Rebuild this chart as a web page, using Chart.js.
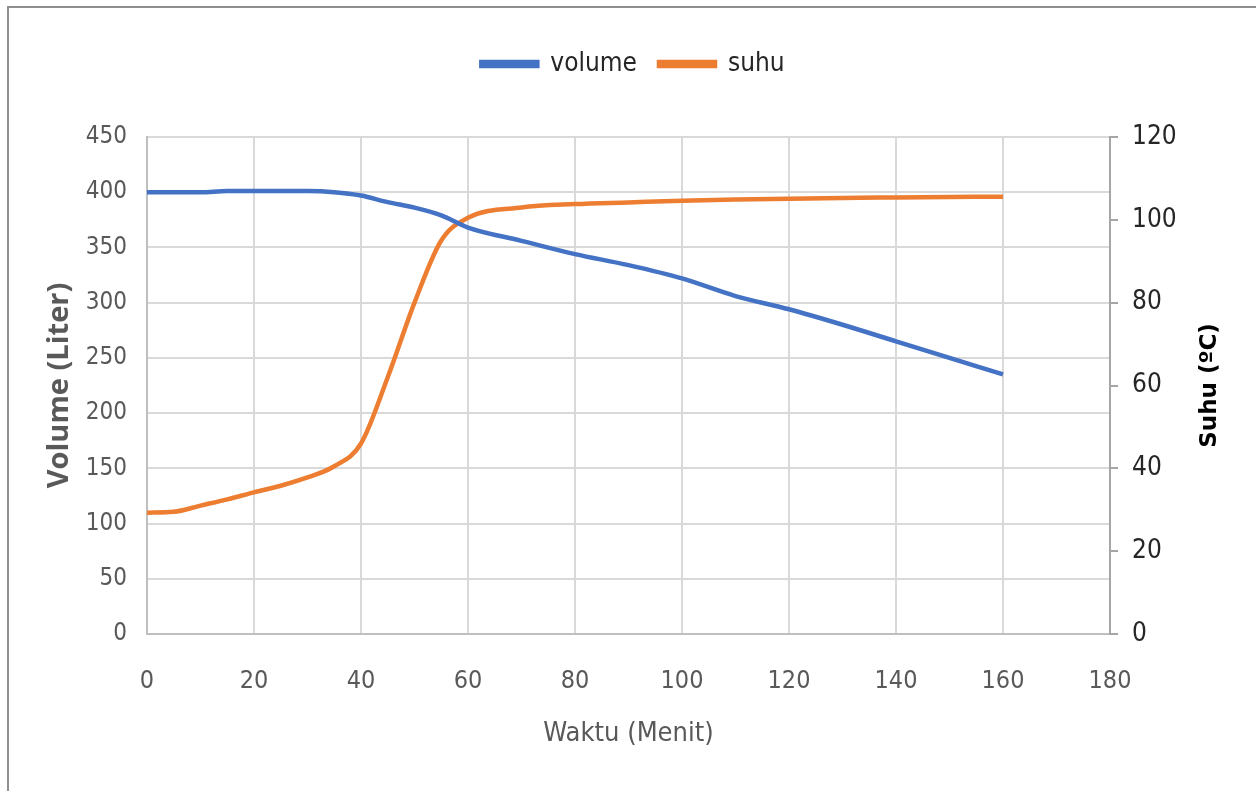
<!DOCTYPE html>
<html>
<head>
<meta charset="utf-8">
<script src="https://cdn.jsdelivr.net/npm/chart.js@4"></script>
<style>
    html, body { margin: 0; padding: 0; background: #fff; }
    #wrap { position: relative; width: 1256px; height: 791px; }
    #frame {
        position: absolute; left: 7px; top: 6px; right: 0; bottom: 0;
        border-left: 2px solid #8f8f8f; border-top: 2px solid #8f8f8f;
        pointer-events: none;
    }
</style>
</head>
<body>
<div id="wrap">
    <canvas id="chart" width="1256" height="791"></canvas>
    <div id="frame"></div>
</div>
<script>
// waktu (menit)
const waktu = [0, 5, 10, 15, 20, 25, 30, 35, 40, 45, 50, 55, 60, 70, 80, 90, 100, 110, 120, 130, 140, 150, 160];
// volume (liter)
const volume = [400, 400, 400, 401, 401, 401, 401, 400, 397, 391, 386, 379, 368, 356, 344, 334, 322, 306, 294, 280, 265, 250, 235];
// suhu (oC)
const suhu = [29.3, 29.5, 31, 32.5, 34.2, 35.8, 37.8, 40.5, 46, 62, 80, 95, 100.5, 103, 103.8, 104.2, 104.6, 104.9, 105.1, 105.3, 105.4, 105.5, 105.6];

const xTicks = [0, 20, 40, 60, 80, 100, 120, 140, 160, 180];

const FONT = "'DejaVu Sans Condensed', 'Open Sans', sans-serif";

// extra room under the legend
const legendGap = {
    id: 'legendGap',
    beforeLayout(chart) {
        const lg = chart.legend;
        if (lg && !lg._gapPatched) {
            const fit = lg.fit;
            lg.fit = function () { fit.call(this); this.height += 50; };
            lg._gapPatched = true;
        }
    }
};

// right axis title, reading bottom to top like in the original
const rightTitle = {
    id: 'rightTitle',
    afterDraw(chart) {
        const c = chart.ctx;
        const area = chart.chartArea;
        c.save();
        c.translate(1210, (area.top + area.bottom) / 2);
        c.rotate(-Math.PI / 2);
        c.textAlign = 'center';
        c.textBaseline = 'middle';
        c.fillStyle = '#000000';
        c.font = "bold 23px 'DejaVu Sans', sans-serif";
        c.fillText('Suhu (ºC)', 0, 0);
        c.restore();
    }
};

document.addEventListener('DOMContentLoaded', function () {
    const ctx = document.getElementById('chart');

    const toPoints = (ys) => waktu.map((t, i) => ({ x: t, y: ys[i] }));

    new Chart(ctx, {
        type: 'line',
        data: {
            datasets: [
                {
                    label: 'volume',
                    data: toPoints(volume),
                    borderColor: '#4472C4',
                    backgroundColor: '#4472C4',
                    borderWidth: 4.5,
                    pointRadius: 0,
                    cubicInterpolationMode: 'monotone',
                    yAxisID: 'y'
                },
                {
                    label: 'suhu',
                    data: toPoints(suhu),
                    borderColor: '#ED7D31',
                    backgroundColor: '#ED7D31',
                    borderWidth: 4.5,
                    pointRadius: 0,
                    cubicInterpolationMode: 'monotone',
                    yAxisID: 'y1'
                }
            ]
        },
        plugins: [legendGap, rightTitle],
        options: {
            responsive: false,
            animation: false,
            devicePixelRatio: 1,
            layout: { padding: { left: 10, right: 0, top: 29, bottom: 0 } },
            plugins: {
                legend: {
                    position: 'top',
                    labels: {
                        boxWidth: 56,
                        boxHeight: 4,
                        padding: 22,
                        color: '#262626',
                        font: { family: FONT, size: 26 }
                    }
                },
                tooltip: { enabled: false }
            },
            scales: {
                x: {
                    type: 'linear',
                    min: 0,
                    max: 180,
                    afterBuildTicks: (scale) => { scale.ticks = xTicks.map(v => ({ value: v })); },
                    afterFit: (scale) => { scale.height = 157; },
                    grid: { color: '#d9d9d9', lineWidth: 2, tickLength: 0 },
                    border: { color: '#bfbfbf', width: 2 },
                    ticks: {
                        color: '#595959',
                        padding: 32,
                        font: { family: FONT, size: 25 }
                    },
                    title: {
                        display: true,
                        text: 'Waktu (Menit)',
                        color: '#595959',
                        padding: { top: 16, bottom: 41 },
                        font: { family: FONT, size: 27 }
                    }
                },
                y: {
                    position: 'left',
                    min: 0,
                    max: 450,
                    afterFit: (scale) => { scale.width = 137; },
                    grid: { color: '#d9d9d9', lineWidth: 2, tickLength: 0 },
                    border: { color: '#bfbfbf', width: 2 },
                    ticks: {
                        stepSize: 50,
                        color: '#595959',
                        padding: 20,
                        font: { family: FONT, size: 24 }
                    },
                    title: {
                        display: true,
                        text: 'Volume (Liter)',
                        color: '#595959',
                        padding: { top: 32, bottom: 0 },
                        font: { family: "'Open Sans', sans-serif", size: 29, weight: 'bold' }
                    }
                },
                y1: {
                    position: 'right',
                    min: 0,
                    max: 120,
                    afterFit: (scale) => { scale.width = 146; },
                    grid: { drawOnChartArea: false, color: '#a6a6a6', lineWidth: 2, tickLength: 8 },
                    border: { color: '#a6a6a6', width: 2 },
                    ticks: {
                        stepSize: 20,
                        color: '#262626',
                        padding: 14,
                        font: { family: FONT, size: 26 }
                    }
                }
            }
        }
    });
});
</script>
</body>
</html>
